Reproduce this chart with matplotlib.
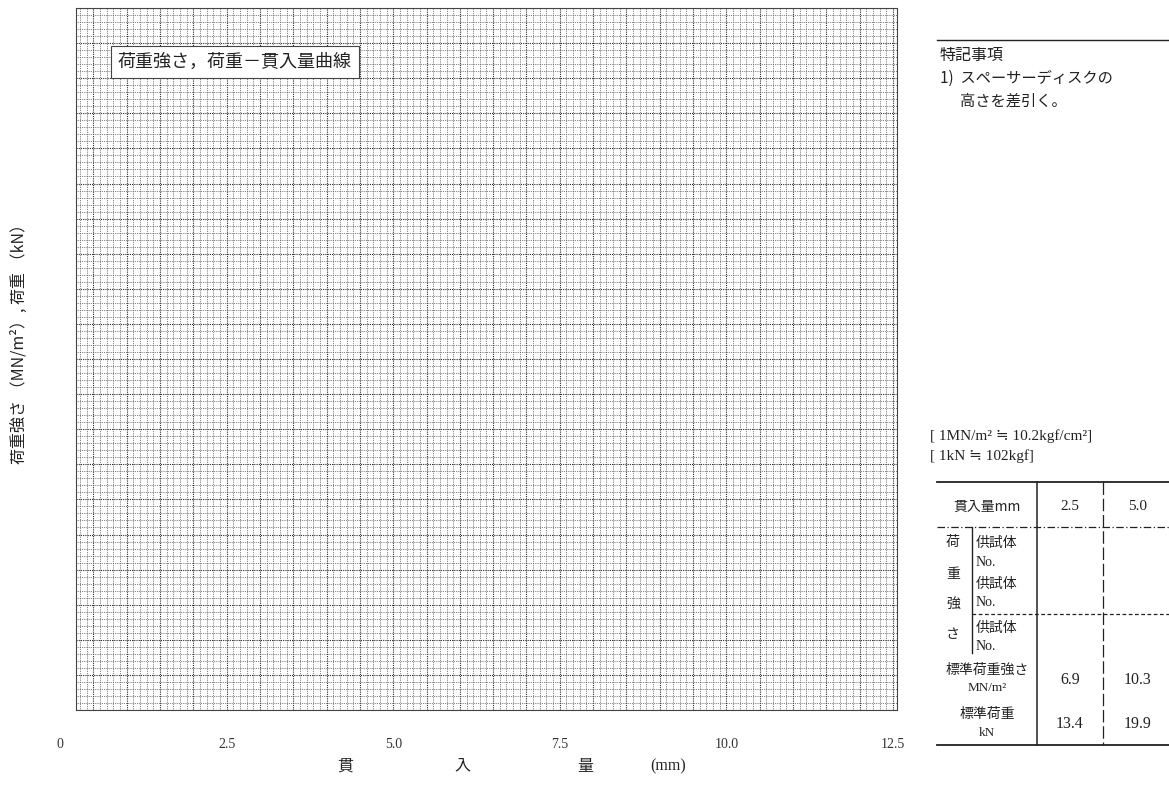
import matplotlib.pyplot as plt
from matplotlib.ticker import MultipleLocator
from matplotlib.transforms import blended_transform_factory

W, H = 1169, 785

# x axis (penetration, mm)
x_ticks = [0, 2.5, 5.0, 7.5, 10.0, 12.5]
x_tick_labels = ["0", "2.5", "5.0", "7.5", "10.0", "12.5"]

# table values
penetration = ["2.5", "5.0"]
std_strength = ["6.9", "10.3"]
std_load = ["13.4", "19.9"]

JP = ["Noto Sans CJK JP", "DejaVu Sans"]
SERIF = ["Liberation Serif", "DejaVu Serif"]


def px(x, y):
    return x / W, 1 - y / H


fig = plt.figure(figsize=(W / 100, H / 100), dpi=100)

# graph paper area
l, t = px(76, 8)
r, b = px(897, 710)
ax = fig.add_axes([l, b, r - l, t - b])
x_per_px = 12.5 / (893 - 60)
ax.set_xlim((76 - 60) * x_per_px, (897 - 60) * x_per_px)
ax.set_ylim(0, 100)
ax.xaxis.set_minor_locator(MultipleLocator(0.1))
ax.xaxis.set_major_locator(MultipleLocator(0.5))
ax.yaxis.set_minor_locator(MultipleLocator(1))
ax.yaxis.set_major_locator(MultipleLocator(5))
ax.grid(which="minor", color="#5a5a5a", lw=0.6, ls=(0, (1, 1.2)))
ax.grid(which="major", color="#2a2a2a", lw=0.8, ls=(0, (1, 1)))
ax.tick_params(which="both", length=0, labelbottom=False, labelleft=False)
for s in ax.spines.values():
    s.set_color("#444444")
    s.set_linestyle((0, (1, 1)))
    s.set_linewidth(0.8)

# tick labels (0 sits left of the printed grid)
tr = blended_transform_factory(ax.transData, fig.transFigure)
for xv, lab in zip(x_ticks, x_tick_labels):
    ax.text(xv, px(0, 745)[1], lab, transform=tr, ha="center", va="center",
            fontsize=10, family=SERIF, color="#333333", clip_on=False)

# box inside the graph
ax.text(*ax.transAxes.inverted().transform(fig.transFigure.transform(px(118, 62))),
        "荷重強さ，荷重－貫入量曲線", transform=ax.transAxes,
        ha="left", va="center", fontsize=13, family=JP, color="#222222",
        bbox=dict(facecolor="white", edgecolor="#444444", lw=0.8, pad=5))

# axis titles
for ch, xx in zip(["貫", "入", "量", "(mm)"], [345, 462, 585, 668]):
    fig.text(*px(xx, 766), ch, ha="center", va="center", fontsize=11.5,
             family=JP if ch != "(mm)" else SERIF, color="#222222")
fig.text(*px(19, 340), "荷重強さ （MN/m²）, 荷重 （kN）", rotation=90,
         ha="center", va="center", fontsize=11.5, family=JP, color="#222222")

# notes on the right
k = dict(ha="left", va="center", family=JP, color="#222222")
fig.add_artist(plt.Line2D([937 / W, 1], [px(0, 40)[1]] * 2, color="#222222", lw=1))
fig.text(*px(940, 55), "特記事項", fontsize=11.5, **k)
fig.text(*px(940, 78), "1)  スペーサーディスクの", fontsize=11, **k)
fig.text(*px(960, 101), "高さを差引く。", fontsize=11, **k)
fig.text(*px(930, 436), "[ 1MN/m² ≒ 10.2kgf/cm²]", fontsize=11, ha="left",
         va="center", family=SERIF, color="#222222")
fig.text(*px(930, 456), "[ 1kN ≒ 102kgf]", fontsize=11, ha="left",
         va="center", family=SERIF, color="#222222")

# table
def hline(y, x0, x1, **kw):
    fig.add_artist(plt.Line2D([x0 / W, x1 / W], [px(0, y)[1]] * 2,
                              color="#222222", **kw))


def vline(x, y0, y1, **kw):
    fig.add_artist(plt.Line2D([x / W] * 2, [px(0, y0)[1], px(0, y1)[1]],
                              color="#222222", **kw))


hline(482, 937, 1169, lw=1.3)
hline(527, 937, 1169, lw=0.9, ls=(0, (6, 2, 1, 2)))
hline(614, 972, 1169, lw=0.9, ls=(0, (3, 2)))
hline(745, 937, 1169, lw=1.3)
vline(1037, 482, 745, lw=1.1)
vline(1103, 482, 745, lw=0.9, ls=(0, (10, 3)))
vline(972, 527, 653, lw=1.0)

c = dict(ha="center", va="center", color="#222222")
fig.text(*px(987, 507), "貫入量mm", fontsize=10, family=JP, **c)
for xx, lab in zip([1070, 1138], penetration):
    fig.text(*px(xx, 507), lab, fontsize=11, family=SERIF, **c)
for yy, ch in zip([542, 574, 604, 634], ["荷", "重", "強", "さ"]):
    fig.text(*px(953, yy), ch, fontsize=10, family=JP, **c)
for yy in [553, 594, 638]:
    fig.text(*px(976, yy - 10), "供試体", fontsize=10, ha="left", va="center",
             family=JP, color="#222222")
    fig.text(*px(976, yy + 9), "No.", fontsize=10, ha="left", va="center",
             family=SERIF, color="#222222")
fig.text(*px(987, 670), "標準荷重強さ", fontsize=10, family=JP, **c)
fig.text(*px(987, 688), "MN/m²", fontsize=9.5, family=SERIF, **c)
fig.text(*px(987, 714), "標準荷重", fontsize=10, family=JP, **c)
fig.text(*px(987, 733), "kN", fontsize=9.5, family=SERIF, **c)
for xx, v1, v2 in zip([1070, 1138], std_strength, std_load):
    fig.text(*px(xx, 680), v1, fontsize=11.5, family=SERIF, **c)
    fig.text(*px(xx, 724), v2, fontsize=11.5, family=SERIF, **c)

fig.savefig("out.png", dpi=100, facecolor="white")
